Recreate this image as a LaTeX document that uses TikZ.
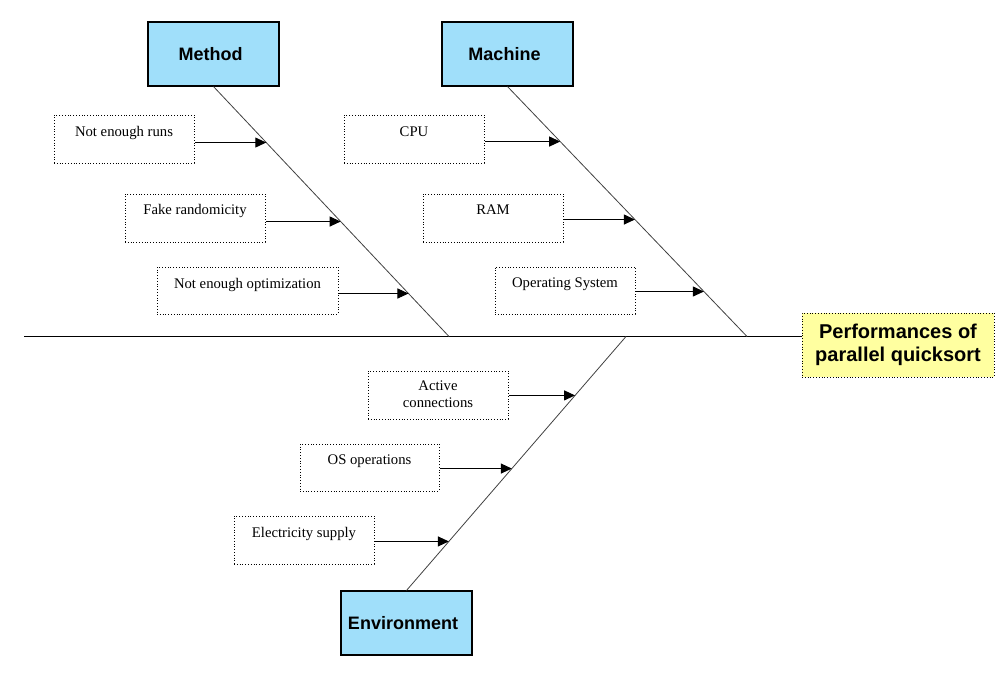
\documentclass[tikz,border=0pt]{standalone}
\usepackage{fontspec}
\setmainfont{Liberation Serif}
\setsansfont{Liberation Sans}
\usetikzlibrary{arrows.meta,calc}
\definecolor{catblue}{RGB}{160,223,250}
\definecolor{effyellow}{RGB}{255,255,160}
\begin{document}
\begin{tikzpicture}[x=1pt,y=-1pt,
 catbox/.style={draw=black, line width=1.1pt, fill=catblue, minimum width=131pt, minimum height=64pt, inner sep=0pt,
   font=\sffamily\bfseries\fontsize{18}{21}\selectfont},
 effbox/.style={draw=black, dotted, line width=0.8pt, fill=effyellow, minimum width=192pt, minimum height=64pt, inner sep=0pt,
   align=center, font=\sffamily\bfseries\fontsize{20}{23.5}\selectfont},
 causebox/.style={draw=black, dotted, line width=0.8pt, minimum width=140pt, minimum height=48pt, inner sep=0pt},
 causetext/.style={anchor=north, inner sep=0pt, align=center, font=\fontsize{14.7}{16.5}\selectfont},
 bone/.style={draw=black!75, line width=0.8pt},
 spine/.style={draw=black, line width=1.1pt},
 causearrow/.style={draw=black, line width=1pt, -{Triangle[length=11pt,width=10pt]}}]
\useasboundingbox (0,0) rectangle (1001,687);

% category boxes
\node[catbox] (method) at (213.5,54) {\hspace*{-6pt}Method};
\node[catbox] (machine) at (507.5,54) {\hspace*{-6pt}Machine};
\node[catbox] (env) at (406.5,623) {\hspace*{-7pt}Environment};
\node[effbox] (effect) at (898,345) {Performances of\\parallel quicksort};

% spine and bones
\coordinate (spineL) at (24,336.5);
\coordinate (mbot) at (449,336.5);
\coordinate (kbot) at (747,336.5);
\coordinate (etop) at (626,336.5);
\draw[spine] (spineL) -- (spineL -| effect.west);
\draw[bone] (method.south) -- (mbot);
\draw[bone] (machine.south) -- (kbot);
\draw[bone] (env.north) -- (etop);

% cause boxes
\node[causebox] (c1) at (124,139) {};
\node[causebox] (c2) at (195,218) {};
\node[causebox, minimum width=181pt, minimum height=47pt] (c3) at (247.5,290.5) {};
\node[causebox] (c4) at (414,139) {};
\node[causebox] (c5) at (493,218) {};
\node[causebox, minimum height=47pt] (c6) at (565,290.5) {};
\node[causebox] (c7) at (438,395) {};
\node[causebox, minimum width=139pt, minimum height=47pt] (c8) at (369.5,467.5) {};
\node[causebox] (c9) at (304,540) {};

\node[causetext] (t1) at ($(c1.north)+(0,12)$) {Not enough runs};
\node[causetext] (t2) at ($(c2.north)+(0,11)$) {Fake randomicity};
\node[causetext] (t3) at ($(c3.north)+(0,11)$) {Not enough optimization};
\node[causetext] (t4) at ($(c4.north)+(0,12)$) {CPU};
\node[causetext] (t5) at ($(c5.north)+(0,11)$) {RAM};
\node[causetext] (t6) at ($(c6.north)+(0,11)$) {Operating System};
\node[causetext] (t7) at ($(c7.north)+(0,10)$) {Active\\connections};
\node[causetext] (t8) at ($(c8.north)+(0,11)$) {OS operations};
\node[causetext] (t9) at ($(c9.north)+(0,11)$) {Electricity supply};

% arrow targets on the bones
\coordinate (a1) at ($(method.south)!0.224!(mbot)$);
\coordinate (a2) at ($(method.south)!0.540!(mbot)$);
\coordinate (a3) at ($(method.south)!0.828!(mbot)$);
\coordinate (a4) at ($(machine.south)!0.220!(kbot)$);
\coordinate (a5) at ($(machine.south)!0.532!(kbot)$);
\coordinate (a6) at ($(machine.south)!0.820!(kbot)$);
\coordinate (a7) at ($(etop)!0.232!(env.north)$);
\coordinate (a8) at ($(etop)!0.520!(env.north)$);
\coordinate (a9) at ($(etop)!0.807!(env.north)$);

\draw[causearrow] ($(a1 -| c1.east)+(1,0)$) -- (a1);
\draw[causearrow] ($(a2 -| c2.east)+(1,0)$) -- (a2);
\draw[causearrow] ($(a3 -| c3.east)+(1,0)$) -- (a3);
\draw[causearrow] ($(a4 -| c4.east)+(1,0)$) -- (a4);
\draw[causearrow] ($(a5 -| c5.east)+(1,0)$) -- (a5);
\draw[causearrow] ($(a6 -| c6.east)+(1,0)$) -- (a6);
\draw[causearrow] ($(a7 -| c7.east)+(1,0)$) -- (a7);
\draw[causearrow] ($(a8 -| c8.east)+(1,0)$) -- (a8);
\draw[causearrow] ($(a9 -| c9.east)+(1,0)$) -- (a9);
\end{tikzpicture}
\end{document}
